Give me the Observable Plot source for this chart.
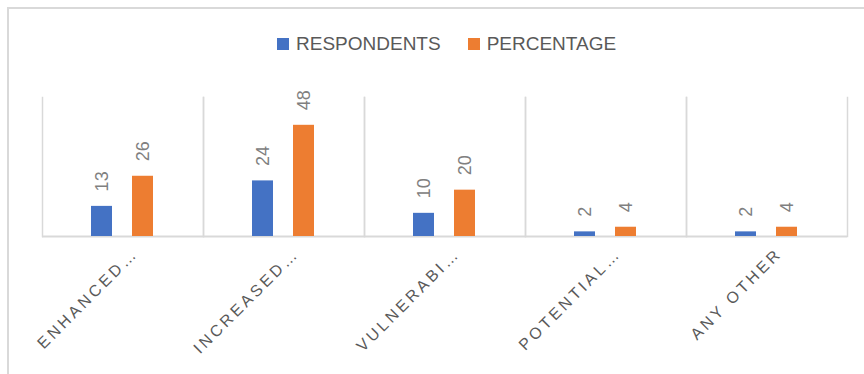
<!DOCTYPE html>
<html>
<head>
<meta charset="utf-8">
<script src="https://cdn.jsdelivr.net/npm/d3@7"></script>
<script src="https://cdn.jsdelivr.net/npm/@observablehq/plot@0.6"></script>
<style>
  body { margin: 0; background: #fff; }
  #chart {
    position: absolute; left: 7px; top: 7px; width: 857px; height: 367px;
    border-top: 2px solid #d9d9d9; border-left: 2px solid #d9d9d9;
    font-family: "Liberation Sans", Arial, sans-serif;
  }
  .legend {
    position: absolute; left: 268px; top: 24px; height: 22px;
    display: flex; align-items: center; color: #595959; font-size: 19px;
  }
  .legend .item { display: flex; align-items: center; margin-right: 27px; }
  .legend .swatch { width: 12px; height: 12px; margin-right: 7px; }
  svg { position: absolute; left: 0; top: 46px; }
</style>
</head>
<body>
<div id="chart"></div>
<script>
// Categories and the two series per category
const categories = ["ENHANCED…", "INCREASED…", "VULNERABI…", "POTENTIAL…", "ANY OTHER"];
const series = ["RESPONDENTS", "PERCENTAGE"];
const respondents = [13, 24, 10, 2, 2];
const percentage = [26, 48, 20, 4, 4];
const colors = ["#4472c4", "#ed7d31"];

const rows = categories.flatMap((c, i) => [
  {category: c, series: series[0], value: respondents[i]},
  {category: c, series: series[1], value: percentage[i]}
]);

const chart = document.getElementById("chart");

// Legend
const legend = document.createElement("div");
legend.className = "legend";
series.forEach((s, i) => {
  const item = document.createElement("div");
  item.className = "item";
  const sw = document.createElement("span");
  sw.className = "swatch";
  sw.style.background = colors[i];
  const label = document.createElement("span");
  label.textContent = s;
  item.append(sw, label);
  legend.append(item);
});
chart.append(legend);

const grid = "#d9d9d9";

const plot = Plot.plot({
  width: 855,
  height: 321,
  marginTop: 42,
  marginBottom: 140,
  marginLeft: 32,
  marginRight: 17,
  style: {fontFamily: "Liberation Sans, Arial, sans-serif", background: "transparent"},
  fx: {domain: categories, padding: 0, axis: null},
  x: {domain: series, axis: null, paddingInner: 0.476, paddingOuter: 1.155},
  y: {domain: [0, 60], axis: null},
  color: {domain: series, range: colors},
  marks: [
    Plot.frame({anchor: "left", stroke: grid, strokeWidth: 1.5}),
    Plot.frame({anchor: "right", stroke: grid, strokeWidth: 1.5}),
    Plot.ruleY([0], {stroke: grid, strokeWidth: 2}),
    Plot.barY(rows, {fx: "category", x: "series", y: "value", fill: "series"}),
    Plot.text(rows, {
      fx: "category", x: "series", y: "value",
      text: d => String(d.value),
      rotate: -90, textAnchor: "start", lineAnchor: "middle",
      dy: -15, fill: "#808080", fontSize: 18
    }),
    Plot.text(categories, {
      fx: d => d, text: d => d,
      frameAnchor: "bottom", rotate: -45, textAnchor: "end", lineAnchor: "top",
      dx: 8, dy: 10, fill: "#595959", fontSize: 16
    })
  ]
});
chart.append(plot);

// Wide character spacing on the rotated category labels
plot.querySelectorAll("text").forEach(t => {
  if (categories.includes(t.textContent)) t.style.letterSpacing = "3.2px";
});
</script>
</body>
</html>
